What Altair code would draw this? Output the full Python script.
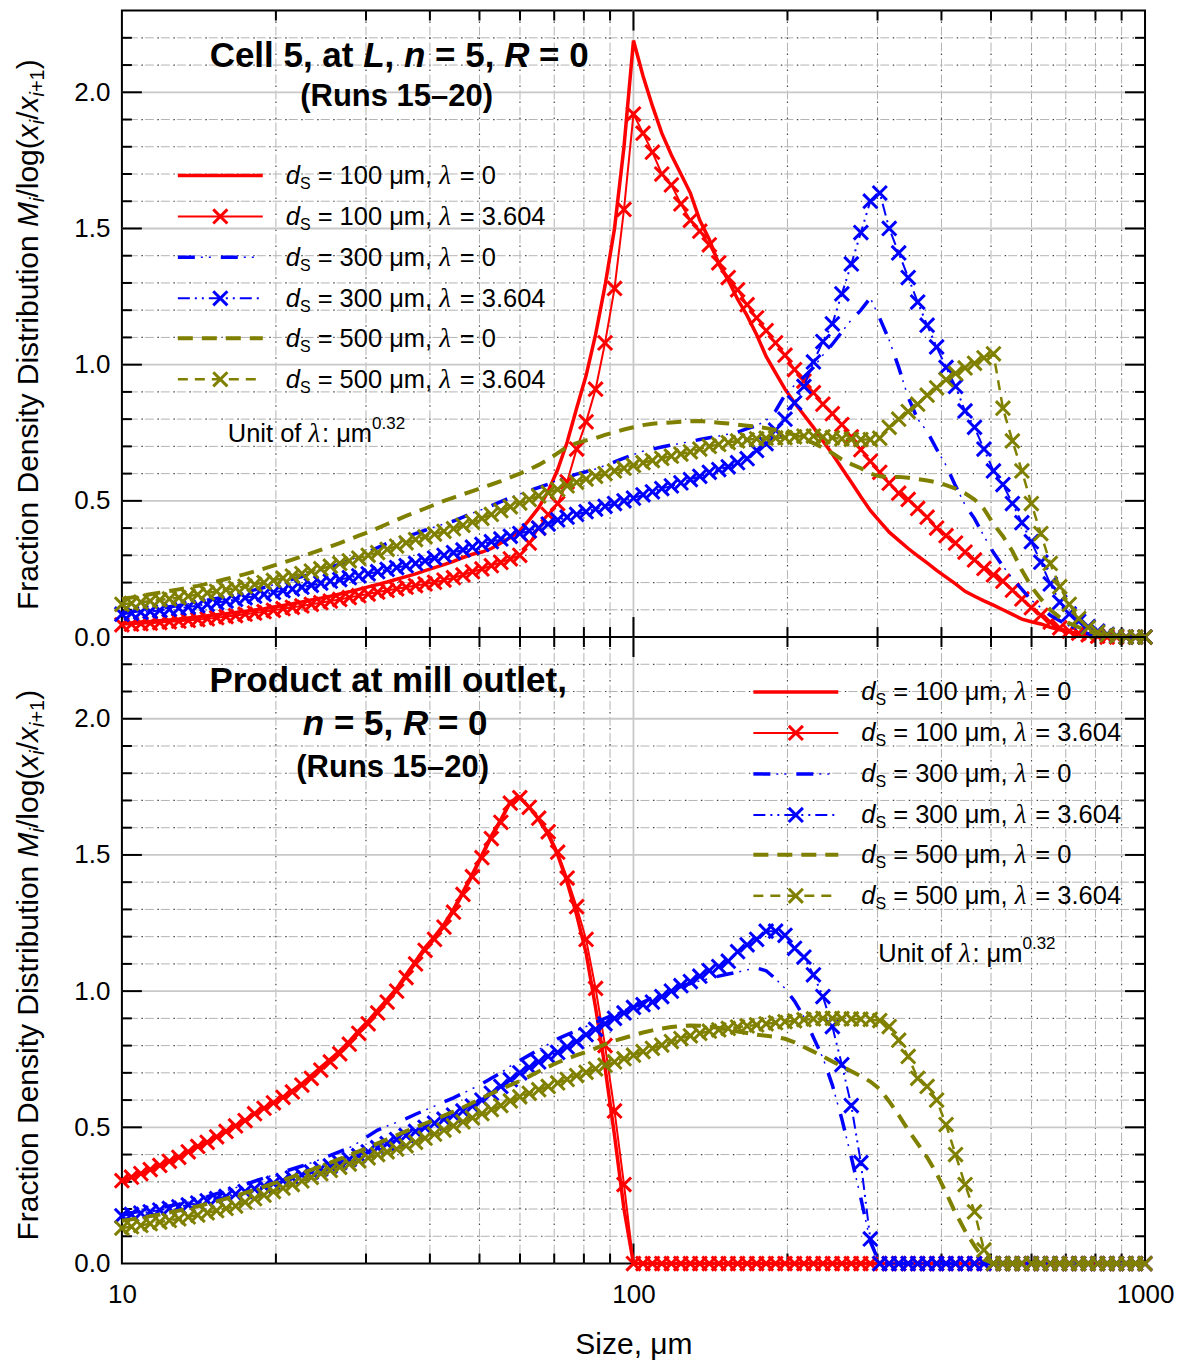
import altair as alt
import pandas as pd

FONT = "Liberation Sans"
SERIF = "Liberation Serif"

# ---------------- data ----------------
SIZES = [10.0, 10.44, 10.89, 11.36, 11.86, 12.38, 12.92, 13.48, 14.07, 14.68,
         15.32, 15.98, 16.68, 17.41, 18.17, 18.96, 19.78, 20.65, 21.54, 22.48,
         23.46, 24.48, 25.55, 26.66, 27.83, 29.04, 30.30, 31.62, 33.00, 34.44,
         35.94, 37.50, 39.14, 40.84, 42.62, 44.48, 46.42, 48.44, 50.55, 52.75,
         55.05, 57.45, 59.95, 62.56, 65.28, 68.13, 71.10, 74.19, 77.43, 80.80,
         84.32, 87.99, 91.83, 95.83, 100.0, 104.4, 108.9, 113.6, 118.6, 123.8,
         129.2, 134.8, 140.7, 146.8, 153.2, 159.8, 166.8, 174.1, 181.7, 189.6,
         197.8, 206.5, 215.4, 224.8, 234.6, 244.8, 255.5, 266.6, 278.3, 290.4,
         303.0, 316.2, 330.0, 344.4, 359.4, 375.0, 391.4, 408.4, 426.2, 444.8,
         464.2, 484.4, 505.5, 527.5, 550.5, 574.5, 599.5, 625.6, 652.8, 681.3,
         711.0, 741.9, 774.3, 808.0, 843.2, 879.9, 918.3, 958.3, 1000.0]

# Cell 5, at L
TOP_R0 = [0.050, 0.052, 0.055, 0.057, 0.060, 0.063, 0.066, 0.070, 0.074, 0.078,
          0.082, 0.086, 0.090, 0.094, 0.099, 0.104, 0.110, 0.116, 0.122, 0.129,
          0.136, 0.143, 0.150, 0.158, 0.166, 0.175, 0.184, 0.193, 0.202, 0.212,
          0.222, 0.232, 0.244, 0.255, 0.266, 0.278, 0.292, 0.304, 0.312, 0.325,
          0.345, 0.365, 0.390, 0.430, 0.475, 0.535, 0.615, 0.715, 0.840, 0.960,
          1.110, 1.290, 1.500, 1.800, 2.190, 2.060, 1.950, 1.850, 1.770, 1.700,
          1.630, 1.530, 1.460, 1.370, 1.310, 1.240, 1.180, 1.110, 1.030, 0.970,
          0.910, 0.860, 0.815, 0.770, 0.720, 0.672, 0.620, 0.568, 0.515, 0.465,
          0.425, 0.385, 0.355, 0.325, 0.298, 0.272, 0.245, 0.220, 0.195, 0.168,
          0.150, 0.133, 0.117, 0.100, 0.083, 0.066, 0.056, 0.048, 0.036, 0.027,
          0.019, 0.012, 0.006, 0.002, 0.0, 0.0, 0.0, 0.0, 0.0]
TOP_R3 = [0.045, 0.047, 0.049, 0.051, 0.053, 0.056, 0.058, 0.061, 0.064, 0.067,
          0.071, 0.075, 0.079, 0.084, 0.088, 0.093, 0.098, 0.104, 0.109, 0.114,
          0.120, 0.126, 0.132, 0.138, 0.145, 0.152, 0.158, 0.165, 0.171, 0.177,
          0.183, 0.189, 0.195, 0.201, 0.209, 0.218, 0.228, 0.240, 0.250, 0.262,
          0.274, 0.287, 0.300, 0.345, 0.400, 0.450, 0.490, 0.570, 0.690, 0.790,
          0.910, 1.080, 1.280, 1.570, 1.920, 1.850, 1.780, 1.700, 1.660, 1.590,
          1.530, 1.490, 1.440, 1.374, 1.320, 1.275, 1.220, 1.172, 1.125, 1.080,
          1.035, 0.982, 0.940, 0.897, 0.855, 0.820, 0.780, 0.735, 0.688, 0.645,
          0.605, 0.565, 0.528, 0.505, 0.472, 0.440, 0.400, 0.372, 0.345, 0.312,
          0.283, 0.252, 0.228, 0.205, 0.172, 0.140, 0.108, 0.080, 0.055, 0.034,
          0.022, 0.014, 0.008, 0.003, 0.0, 0.0, 0.0, 0.0, 0.0]
TOP_B0 = [0.090, 0.093, 0.097, 0.101, 0.106, 0.111, 0.116, 0.122, 0.128, 0.135,
          0.142, 0.149, 0.157, 0.165, 0.173, 0.182, 0.192, 0.202, 0.212, 0.222,
          0.233, 0.244, 0.256, 0.268, 0.281, 0.296, 0.312, 0.328, 0.344, 0.356,
          0.368, 0.380, 0.392, 0.404, 0.415, 0.426, 0.440, 0.455, 0.468, 0.482,
          0.497, 0.512, 0.525, 0.537, 0.549, 0.561, 0.578, 0.588, 0.598, 0.607,
          0.617, 0.630, 0.643, 0.657, 0.670, 0.682, 0.690, 0.698, 0.705, 0.711,
          0.718, 0.725, 0.732, 0.738, 0.745, 0.752, 0.765, 0.776, 0.795, 0.830,
          0.890, 0.925, 0.955, 0.990, 1.035, 1.075, 1.120, 1.165, 1.200, 1.245,
          1.170, 1.090, 0.990, 0.880, 0.800, 0.755, 0.690, 0.630, 0.555, 0.485,
          0.435, 0.370, 0.310, 0.260, 0.215, 0.175, 0.135, 0.108, 0.080, 0.060,
          0.040, 0.025, 0.012, 0.004, 0.0, 0.0, 0.0, 0.0, 0.0]
TOP_B3 = [0.084, 0.087, 0.091, 0.094, 0.098, 0.102, 0.106, 0.110, 0.115, 0.120,
          0.126, 0.132, 0.138, 0.144, 0.150, 0.157, 0.164, 0.170, 0.176, 0.183,
          0.190, 0.198, 0.205, 0.211, 0.218, 0.225, 0.232, 0.240, 0.248, 0.255,
          0.262, 0.270, 0.280, 0.290, 0.300, 0.310, 0.320, 0.330, 0.340, 0.350,
          0.360, 0.370, 0.380, 0.390, 0.400, 0.415, 0.430, 0.440, 0.450, 0.460,
          0.470, 0.480, 0.490, 0.500, 0.510, 0.522, 0.533, 0.545, 0.555, 0.566,
          0.578, 0.590, 0.605, 0.615, 0.625, 0.640, 0.655, 0.685, 0.710, 0.760,
          0.800, 0.860, 0.920, 1.010, 1.085, 1.150, 1.260, 1.370, 1.485, 1.600,
          1.630, 1.500, 1.410, 1.320, 1.230, 1.145, 1.065, 0.990, 0.920, 0.830,
          0.770, 0.690, 0.610, 0.560, 0.490, 0.420, 0.350, 0.275, 0.195, 0.128,
          0.085, 0.058, 0.038, 0.022, 0.010, 0.004, 0.0, 0.0, 0.0]
TOP_O0 = [0.140, 0.145, 0.151, 0.157, 0.163, 0.169, 0.175, 0.181, 0.188, 0.196,
          0.204, 0.213, 0.222, 0.231, 0.241, 0.251, 0.262, 0.273, 0.284, 0.296,
          0.308, 0.320, 0.332, 0.345, 0.358, 0.372, 0.385, 0.400, 0.415, 0.430,
          0.445, 0.458, 0.472, 0.486, 0.500, 0.512, 0.524, 0.536, 0.548, 0.560,
          0.572, 0.586, 0.600, 0.615, 0.632, 0.652, 0.675, 0.698, 0.712, 0.722,
          0.730, 0.742, 0.752, 0.762, 0.770, 0.778, 0.783, 0.786, 0.788, 0.790,
          0.792, 0.793, 0.790, 0.787, 0.784, 0.780, 0.776, 0.772, 0.767, 0.760,
          0.752, 0.742, 0.728, 0.712, 0.695, 0.675, 0.652, 0.635, 0.620, 0.600,
          0.590, 0.588, 0.588, 0.585, 0.580, 0.575, 0.568, 0.558, 0.545, 0.528,
          0.505, 0.470, 0.415, 0.370, 0.315, 0.245, 0.185, 0.140, 0.100, 0.072,
          0.050, 0.036, 0.022, 0.012, 0.005, 0.0, 0.0, 0.0, 0.0]
TOP_O3 = [0.120, 0.124, 0.128, 0.132, 0.136, 0.140, 0.145, 0.150, 0.156, 0.162,
          0.168, 0.174, 0.180, 0.186, 0.193, 0.200, 0.208, 0.216, 0.224, 0.233,
          0.242, 0.251, 0.260, 0.270, 0.280, 0.290, 0.300, 0.310, 0.322, 0.334,
          0.346, 0.358, 0.368, 0.378, 0.388, 0.398, 0.410, 0.422, 0.436, 0.450,
          0.464, 0.478, 0.492, 0.505, 0.518, 0.530, 0.542, 0.555, 0.568, 0.580,
          0.590, 0.600, 0.610, 0.620, 0.630, 0.640, 0.648, 0.656, 0.664, 0.672,
          0.680, 0.690, 0.700, 0.707, 0.714, 0.720, 0.724, 0.728, 0.730, 0.731,
          0.732, 0.735, 0.738, 0.738, 0.735, 0.732, 0.728, 0.726, 0.725, 0.725,
          0.730, 0.770, 0.800, 0.828, 0.855, 0.888, 0.915, 0.945, 0.968, 0.988,
          1.005, 1.025, 1.040, 0.840, 0.720, 0.610, 0.490, 0.380, 0.270, 0.185,
          0.120, 0.068, 0.035, 0.018, 0.008, 0.003, 0.0, 0.0, 0.0]

# Product at mill outlet
BOT_R0 = [0.304, 0.317, 0.330, 0.345, 0.360, 0.375, 0.390, 0.410, 0.430, 0.445,
          0.465, 0.485, 0.505, 0.525, 0.550, 0.570, 0.590, 0.610, 0.635, 0.660,
          0.690, 0.720, 0.750, 0.780, 0.815, 0.855, 0.890, 0.930, 0.970, 1.010,
          1.060, 1.110, 1.160, 1.200, 1.245, 1.300, 1.365, 1.430, 1.500, 1.570,
          1.630, 1.695, 1.712, 1.675, 1.630, 1.575, 1.500, 1.400, 1.280, 1.140,
          0.940, 0.720, 0.470, 0.200, 0.0, 0.0, 0.0, 0.0, 0.0, 0.0,
          0.0, 0.0, 0.0, 0.0, 0.0, 0.0, 0.0, 0.0, 0.0, 0.0,
          0.0, 0.0, 0.0, 0.0, 0.0, 0.0, 0.0, 0.0, 0.0, 0.0,
          0.0, 0.0, 0.0, 0.0, 0.0, 0.0, 0.0, 0.0, 0.0, 0.0,
          0.0, 0.0, 0.0, 0.0, 0.0, 0.0, 0.0, 0.0, 0.0, 0.0,
          0.0, 0.0, 0.0, 0.0, 0.0, 0.0, 0.0, 0.0, 0.0]
BOT_R3 = [0.304, 0.317, 0.330, 0.345, 0.360, 0.375, 0.390, 0.410, 0.430, 0.445,
          0.465, 0.485, 0.505, 0.525, 0.550, 0.570, 0.590, 0.610, 0.630, 0.655,
          0.680, 0.710, 0.740, 0.770, 0.805, 0.845, 0.880, 0.920, 0.960, 1.000,
          1.050, 1.100, 1.150, 1.190, 1.235, 1.290, 1.355, 1.420, 1.490, 1.560,
          1.620, 1.690, 1.710, 1.675, 1.635, 1.585, 1.510, 1.415, 1.310, 1.190,
          1.010, 0.800, 0.560, 0.290, 0.0, 0.0, 0.0, 0.0, 0.0, 0.0,
          0.0, 0.0, 0.0, 0.0, 0.0, 0.0, 0.0, 0.0, 0.0, 0.0,
          0.0, 0.0, 0.0, 0.0, 0.0, 0.0, 0.0, 0.0, 0.0, 0.0,
          0.0, 0.0, 0.0, 0.0, 0.0, 0.0, 0.0, 0.0, 0.0, 0.0,
          0.0, 0.0, 0.0, 0.0, 0.0, 0.0, 0.0, 0.0, 0.0, 0.0,
          0.0, 0.0, 0.0, 0.0, 0.0, 0.0, 0.0, 0.0, 0.0]
BOT_B0 = [0.180, 0.186, 0.192, 0.198, 0.204, 0.211, 0.218, 0.226, 0.235, 0.245,
          0.256, 0.267, 0.278, 0.290, 0.302, 0.314, 0.325, 0.336, 0.347, 0.358,
          0.370, 0.383, 0.397, 0.411, 0.425, 0.445, 0.468, 0.490, 0.505, 0.518,
          0.532, 0.548, 0.563, 0.578, 0.593, 0.608, 0.625, 0.642, 0.660, 0.680,
          0.700, 0.725, 0.745, 0.765, 0.785, 0.805, 0.825, 0.840, 0.855, 0.870,
          0.885, 0.900, 0.915, 0.930, 0.945, 0.960, 0.975, 0.990, 1.005, 1.017,
          1.028, 1.038, 1.047, 1.055, 1.063, 1.070, 1.078, 1.085, 1.075, 1.045,
          1.010, 0.963, 0.905, 0.830, 0.755, 0.655, 0.530, 0.390, 0.240, 0.080,
          0.0, 0.0, 0.0, 0.0, 0.0, 0.0, 0.0, 0.0, 0.0, 0.0,
          0.0, 0.0, 0.0, 0.0, 0.0, 0.0, 0.0, 0.0, 0.0, 0.0,
          0.0, 0.0, 0.0, 0.0, 0.0, 0.0, 0.0, 0.0, 0.0]
BOT_B3 = [0.175, 0.180, 0.185, 0.190, 0.196, 0.202, 0.208, 0.215, 0.222, 0.230,
          0.238, 0.246, 0.255, 0.264, 0.274, 0.284, 0.294, 0.304, 0.314, 0.325,
          0.336, 0.347, 0.358, 0.370, 0.382, 0.396, 0.410, 0.425, 0.440, 0.455,
          0.470, 0.485, 0.500, 0.515, 0.530, 0.545, 0.560, 0.578, 0.600, 0.625,
          0.650, 0.675, 0.700, 0.720, 0.740, 0.760, 0.775, 0.795, 0.815, 0.840,
          0.860, 0.880, 0.900, 0.920, 0.940, 0.950, 0.960, 0.980, 1.000, 1.020,
          1.035, 1.055, 1.075, 1.090, 1.110, 1.145, 1.170, 1.190, 1.220, 1.220,
          1.205, 1.157, 1.125, 1.060, 0.980, 0.870, 0.730, 0.580, 0.370, 0.090,
          0.0, 0.0, 0.0, 0.0, 0.0, 0.0, 0.0, 0.0, 0.0, 0.0,
          0.0, 0.0, 0.0, 0.0, 0.0, 0.0, 0.0, 0.0, 0.0, 0.0,
          0.0, 0.0, 0.0, 0.0, 0.0, 0.0, 0.0, 0.0, 0.0]
BOT_O0 = [0.157, 0.162, 0.168, 0.174, 0.180, 0.187, 0.194, 0.202, 0.210, 0.219,
          0.228, 0.238, 0.248, 0.259, 0.270, 0.282, 0.294, 0.306, 0.318, 0.331,
          0.344, 0.357, 0.370, 0.384, 0.398, 0.412, 0.426, 0.441, 0.456, 0.471,
          0.486, 0.500, 0.514, 0.528, 0.543, 0.558, 0.573, 0.590, 0.607, 0.624,
          0.640, 0.655, 0.670, 0.687, 0.705, 0.722, 0.738, 0.752, 0.765, 0.777,
          0.790, 0.805, 0.818, 0.828, 0.838, 0.848, 0.856, 0.863, 0.868, 0.872,
          0.874, 0.873, 0.870, 0.865, 0.858, 0.852, 0.846, 0.840, 0.836, 0.832,
          0.825, 0.812, 0.795, 0.778, 0.760, 0.742, 0.724, 0.706, 0.688, 0.668,
          0.640, 0.595, 0.545, 0.490, 0.440, 0.390, 0.330, 0.260, 0.185, 0.120,
          0.065, 0.015, 0.0, 0.0, 0.0, 0.0, 0.0, 0.0, 0.0, 0.0,
          0.0, 0.0, 0.0, 0.0, 0.0, 0.0, 0.0, 0.0, 0.0]
BOT_O3 = [0.130, 0.135, 0.140, 0.146, 0.152, 0.158, 0.164, 0.171, 0.178, 0.186,
          0.194, 0.202, 0.211, 0.225, 0.238, 0.251, 0.264, 0.277, 0.290, 0.303,
          0.316, 0.330, 0.342, 0.353, 0.365, 0.377, 0.388, 0.400, 0.410, 0.420,
          0.432, 0.445, 0.460, 0.475, 0.490, 0.505, 0.520, 0.535, 0.550, 0.565,
          0.580, 0.597, 0.612, 0.625, 0.638, 0.650, 0.663, 0.676, 0.690, 0.702,
          0.715, 0.728, 0.740, 0.752, 0.765, 0.778, 0.790, 0.802, 0.815, 0.826,
          0.836, 0.845, 0.853, 0.858, 0.863, 0.868, 0.872, 0.876, 0.880, 0.884,
          0.888, 0.891, 0.895, 0.898, 0.900, 0.900, 0.899, 0.898, 0.897, 0.896,
          0.892, 0.870, 0.820, 0.760, 0.680, 0.650, 0.600, 0.510, 0.400, 0.290,
          0.190, 0.050, 0.0, 0.0, 0.0, 0.0, 0.0, 0.0, 0.0, 0.0,
          0.0, 0.0, 0.0, 0.0, 0.0, 0.0, 0.0, 0.0, 0.0]

SERIES_KEYS = ["r0", "r3", "b0", "b3", "o0", "o3"]
TOP_DATA = dict(zip(SERIES_KEYS, [TOP_R0, TOP_R3, TOP_B0, TOP_B3, TOP_O0, TOP_O3]))
BOT_DATA = dict(zip(SERIES_KEYS, [BOT_R0, BOT_R3, BOT_B0, BOT_B3, BOT_O0, BOT_O3]))

LEGEND_DS = ["100", "100", "300", "300", "500", "500"]
LEGEND_LAMBDA = ["0", "3.604", "0", "3.604", "0", "3.604"]

X_LABELS = [10, 100, 1000]
X_MAJOR = [100]
X_MINOR = [20, 30, 40, 50, 60, 70, 80, 90, 200, 300, 400, 500, 600, 700, 800, 900]
Y_LABELS = [0.0, 0.5, 1.0, 1.5, 2.0]
Y_MAJOR = [0.5, 1.0, 1.5, 2.0]
Y_MINOR = [0.1, 0.2, 0.3, 0.4, 0.6, 0.7, 0.8, 0.9, 1.1, 1.2, 1.3, 1.4,
           1.6, 1.7, 1.8, 1.9, 2.1, 2.2]

# ---------------- styles ----------------
COLOR = {"r": "#ff0000", "b": "#0000ff", "o": "#808000"}
LINE_STYLE = {
    "r0": {"strokeWidth": 3.5},
    "r3": {"strokeWidth": 2},
    "b0": {"strokeWidth": 3.5, "strokeDash": [17, 26]},
    "b3": {"strokeWidth": 2, "strokeDash": [12, 5, 2, 5, 2, 5]},
    "o0": {"strokeWidth": 4, "strokeDash": [15, 9]},
    "o3": {"strokeWidth": 2.5, "strokeDash": [10, 7]},
}
OVERLAY = {"b0": {"strokeWidth": 1.5, "strokeDash": [0, 23, 2, 6, 2, 10]}}
MARKED = {"r3", "b3", "o3"}
XPATH = "M-1,-1L1,1M-1,1L1,-1"
MSIZE = 200

W, H = 1024, 627
XS = alt.Scale(type="log", domain=[10, 1000], nice=False)
YS = alt.Scale(domain=[0, 2.3], nice=False, zero=False)
DUMMY = pd.DataFrame({"k": [0]})

YAXIS = alt.Axis(values=Y_LABELS, format=".1f", title=None, labelFontSize=26,
                 labelFont=FONT, labelColor="black", labelPadding=12, ticks=False,
                 tickSize=0, domain=False, grid=False)
XAXIS = alt.Axis(values=X_LABELS, format="d", title="Size, μm", labelFontSize=26,
                 labelFont=FONT, labelColor="black", labelPadding=18,
                 labelFlush=False, labelOverlap=False, ticks=False, tickSize=0,
                 domain=False, grid=False, titleFont=FONT, titleFontSize=30,
                 titleFontWeight="normal", titleColor="black", titlePadding=22)

W_REG = {' ': 278, '(': 333, ')': 333, '+': 584, ',': 278, '.': 278, '/': 278, ':': 278,
         '=': 584, '–': 556, 'μ': 576, 'λ': 500, 'D': 722, 'F': 611, 'M': 833, 'S': 667,
         'U': 722, 'a': 556, 'b': 556, 'c': 500, 'd': 556, 'e': 556, 'f': 278, 'g': 556,
         'i': 222, 'l': 222, 'm': 833, 'n': 556, 'o': 556, 'r': 333, 's': 500, 't': 278,
         'u': 556, 'x': 500, 'y': 500}
W_BOLD = {' ': 278, '(': 333, ')': 333, ',': 278, '=': 584, '–': 556, 'C': 722, 'L': 611,
          'P': 667, 'R': 722, 'a': 556, 'c': 556, 'd': 611, 'e': 556, 'i': 278, 'l': 278,
          'm': 889, 'n': 611, 'o': 611, 'r': 389, 's': 556, 't': 333, 'u': 611}
STYLE_PROPS = {
    "n": {"font": FONT},
    "i": {"font": FONT, "fontStyle": "italic"},
    "b": {"font": FONT, "fontWeight": "bold"},
    "bi": {"font": FONT, "fontWeight": "bold", "fontStyle": "italic"},
    "si": {"font": SERIF, "fontStyle": "italic"},
}


def seg_width(text, style, size):
    table = W_BOLD if style.startswith("b") else W_REG
    return sum(table.get(c, 556) for c in text) * size / 1000.0


def rich(segs, x0, y0, angle=0, center=False):
    widths = [seg_width(t, st, sz) for t, st, sz, sh in segs]
    off = -sum(widths) / 2.0 if center else 0.0
    out = []
    for (t, st, sz, sh), w in zip(segs, widths):
        lead = len(t) - len(t.lstrip(" "))
        shown = t.strip(" ")
        o = off + seg_width(" " * lead, st, sz)
        if angle == 0:
            px, py = x0 + o, y0 + sh
        else:
            px, py = x0 + sh, y0 - o
        out.append(
            alt.Chart(DUMMY).mark_text(
                text=shown, align="left", baseline="alphabetic", angle=angle,
                fontSize=sz, color="black", **STYLE_PROPS[st]
            ).encode(x=alt.value(px), y=alt.value(py))
        )
        off += w
    return out


def series_layers(data, xaxis):
    layers = []
    for key in SERIES_KEYS:
        df = pd.DataFrame({"size": SIZES, "value": data[key]})
        enc = dict(x=alt.X("size:Q", scale=XS, axis=xaxis),
                   y=alt.Y("value:Q", scale=YS, axis=YAXIS))
        col = COLOR[key[0]]
        layers.append(alt.Chart(df).mark_line(color=col, **LINE_STYLE[key]).encode(**enc))
        if key in OVERLAY:
            layers.append(alt.Chart(df).mark_line(color=col, **OVERLAY[key]).encode(**enc))
        if key in MARKED:
            layers.append(alt.Chart(df).mark_point(
                shape=XPATH, size=MSIZE, strokeWidth=3, filled=False, opacity=1, color=col
            ).encode(**enc))
    return layers


def legend_layers(x1, x2, tx, rows):
    layers = []
    xm = (x1 + x2) / 2.0
    for i, key in enumerate(SERIES_KEYS):
        y = rows[i]
        col = COLOR[key[0]]
        layers.append(alt.Chart(DUMMY).mark_rule(color=col, **LINE_STYLE[key]).encode(
            x=alt.value(x1), x2=alt.value(x2), y=alt.value(y)))
        if key in OVERLAY:
            layers.append(alt.Chart(DUMMY).mark_rule(color=col, **OVERLAY[key]).encode(
                x=alt.value(x1), x2=alt.value(x2), y=alt.value(y)))
        if key in MARKED:
            layers.append(alt.Chart(DUMMY).mark_point(
                shape=XPATH, size=MSIZE, strokeWidth=3, filled=False, opacity=1, color=col
            ).encode(x=alt.value(xm), y=alt.value(y)))
        segs = [("d", "i", 25.5, 0), ("S", "n", 16, 5),
                (" = " + LEGEND_DS[i] + " μm, ", "n", 25.5, 0),
                ("λ", "si", 27, 0), (" = " + LEGEND_LAMBDA[i], "n", 25.5, 0)]
        layers += rich(segs, tx, y + 8.5)
    return layers


def frame_layers(xaxis):
    minor = dict(color="#b4b4b4", strokeWidth=1, strokeDash=[9, 7])
    dots = dict(color="#444444", strokeWidth=1.2, strokeDash=[0, 11, 1.5, 3.5])
    major = dict(color="#c8c8c8", strokeWidth=1.8)
    ydf = pd.DataFrame({"v": Y_MINOR})
    xdf = pd.DataFrame({"v": X_MINOR})
    L = [
        alt.Chart(ydf).mark_rule(**minor).encode(y=alt.Y("v:Q", scale=YS, axis=YAXIS)),
        alt.Chart(ydf).mark_rule(**dots).encode(y=alt.Y("v:Q", scale=YS, axis=YAXIS)),
        alt.Chart(xdf).mark_rule(**minor).encode(x=alt.X("v:Q", scale=XS, axis=xaxis)),
        alt.Chart(xdf).mark_rule(**dots).encode(x=alt.X("v:Q", scale=XS, axis=xaxis)),
        alt.Chart(pd.DataFrame({"v": Y_MAJOR})).mark_rule(**major).encode(
            y=alt.Y("v:Q", scale=YS, axis=YAXIS)),
        alt.Chart(pd.DataFrame({"v": X_MAJOR})).mark_rule(**major).encode(
            x=alt.X("v:Q", scale=XS, axis=xaxis)),
    ]
    tick = dict(color="black", strokeWidth=2)
    for vals, ln in ((Y_MAJOR, 20), (Y_MINOR, 10)):
        df = pd.DataFrame({"v": vals})
        yv = alt.Y("v:Q", scale=YS, axis=YAXIS)
        L.append(alt.Chart(df).mark_rule(**tick).encode(y=yv, x=alt.value(0), x2=alt.value(ln)))
        L.append(alt.Chart(df).mark_rule(**tick).encode(y=yv, x=alt.value(W - ln), x2=alt.value(W)))
    for vals, ln in ((X_MAJOR, 20), (X_MINOR, 10)):
        df = pd.DataFrame({"v": vals})
        xv = alt.X("v:Q", scale=XS, axis=xaxis)
        L.append(alt.Chart(df).mark_rule(**tick).encode(x=xv, y=alt.value(H - ln), y2=alt.value(H)))
        L.append(alt.Chart(df).mark_rule(**tick).encode(x=xv, y=alt.value(0), y2=alt.value(ln)))
    return L


def ytitle(y0):
    segs = [("Fraction Density Distribution ", "n", 30, 0), ("M", "i", 30, 0),
            ("i", "i", 20, 6), ("/log(", "n", 30, 0), ("x", "i", 30, 0),
            ("i", "i", 20, 6), ("/", "n", 30, 0), ("x", "i", 30, 0),
            ("i", "i", 20, 6), ("+1", "n", 20, 6), (")", "n", 30, 0)]
    return rich(segs, -84, y0, angle=270)


def unit_text(x, y):
    segs = [("Unit of ", "n", 25.5, 0), ("λ", "si", 27, 0), (": μm", "n", 25.5, 0),
            ("0.32", "n", 17, -13)]
    return rich(segs, x, y)


# ---------------- top panel ----------------
top_layers = frame_layers(None)
top_layers += series_layers(TOP_DATA, None)
top_layers += legend_layers(56, 141, 164, [165, 206, 247, 288, 328, 369])
top_layers += unit_text(106, 432)
top_layers += rich([("Cell 5, at ", "b", 35, 0), ("L", "bi", 35, 0), (", ", "b", 35, 0),
                    ("n", "bi", 35, 0), (" = 5, ", "b", 35, 0), ("R", "bi", 35, 0),
                    (" = 0", "b", 35, 0)], 277.5, 56, center=True)
top_layers += rich([("(Runs 15–20)", "b", 31, 0)], 275, 96, center=True)
top_layers += ytitle(600)
top = alt.layer(*top_layers).properties(width=W, height=H)

# ---------------- bottom panel ----------------
bot_layers = frame_layers(XAXIS)
bot_layers += series_layers(BOT_DATA, XAXIS)
bot_layers += legend_layers(632, 717, 740, [55, 96, 137, 178, 218, 259])
bot_layers += unit_text(757, 325)
bot_layers += rich([("Product at mill outlet,", "b", 35, 0)], 266.5, 55, center=True)
bot_layers += rich([("n", "bi", 35, 0), (" = 5, ", "b", 35, 0), ("R", "bi", 35, 0),
                    (" = 0", "b", 35, 0)], 273.5, 98, center=True)
bot_layers += rich([("(Runs 15–20)", "b", 31, 0)], 271, 140, center=True)
bot_layers += ytitle(604)
bottom = alt.layer(*bot_layers).properties(width=W, height=H)

chart = alt.vconcat(top, bottom, spacing=0, bounds="flush").configure_view(
    stroke="black", strokeWidth=2
).properties(padding={"left": 5, "top": 0, "right": 0, "bottom": 0})

chart.save("out.html", embed_options={"renderer": "svg", "actions": False})
